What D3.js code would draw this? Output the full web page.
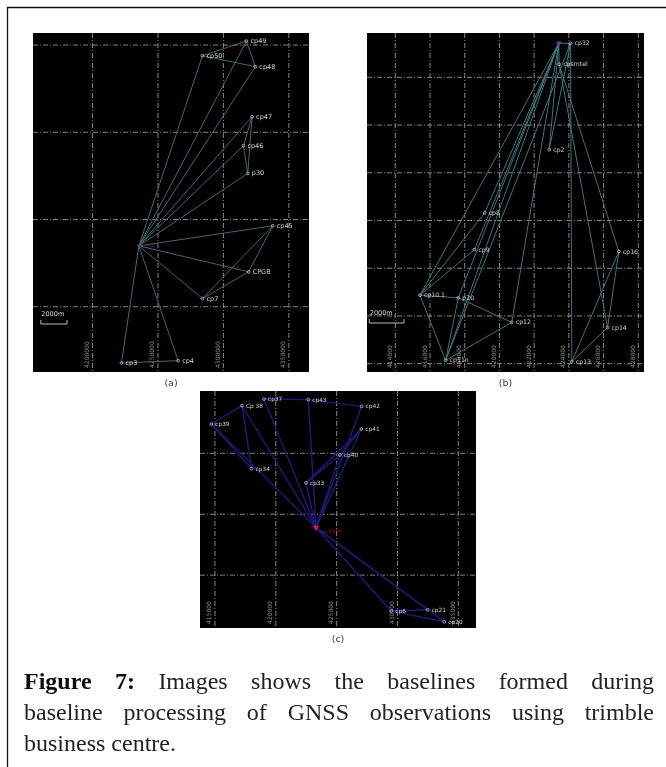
<!DOCTYPE html>
<html>
<head>
<meta charset="utf-8">
<script src="https://cdn.jsdelivr.net/npm/d3@7"></script>
<style>
  html, body { margin: 0; padding: 0; background: #fff; }
  svg { display: block; }
</style>
</head>
<body>
<div id="fig"></div>
<script>
// station positions in km (easting, northing)
const stationsA = [
  ['cp49', 431.76, 1000.23], ['cp50', 428.40, 999.39], ['cp48', 432.44, 998.76],
  ['cp47', 432.19, 995.89], ['cp46', 431.53, 994.23], ['p30', 431.86, 992.64],
  ['cp45', 433.77, 989.64], ['CPGB', 431.93, 987.00], ['cp7', 428.40, 985.47],
  ['cp4', 426.54, 981.91], ['cp3', 422.21, 981.78]
];
const baseA = [423.54, 988.49];
const noSpokeA = [];
const linksA = [
  ['cp50','cp49'], ['cp50','cp48'], ['cp49','cp48'], ['cp47','cp46'], ['cp47','p30'], ['cp46','p30'],
  ['cp45','CPGB'], ['cp45','cp7'], ['CPGB','cp7'], ['cp3','cp4']
];
const stationsB = [
  ['cp32', 424.10, 1001.43], ['cpsmtel', 423.44, 1000.55], ['cp2', 422.87, 996.97],
  ['cp8', 419.15, 994.32], ['cp9', 418.56, 992.78], ['cp16', 426.88, 992.70],
  ['cp10.1', 415.42, 990.87], ['p20', 417.63, 990.76], ['cp12', 420.71, 989.73],
  ['cp14', 426.23, 989.51], ['cp11n', 416.90, 988.14], ['cp13', 424.17, 988.08]
];
const baseB = [423.42, 1001.43];
const noSpokeB = ['cp16', 'cp14', 'cp13'];
const linksB = [
  ['cp32','cp2'], ['cp8','cp10.1'], ['cp9','cp10.1'], ['cp10.1','p20'], ['cp10.1','cp11n'],
  ['p20','cp11n'], ['p20','cp12'], ['cp11n','cp12'], ['cp32','cp11n'],
  ['cpsmtel','cp16'], ['cpsmtel','cp14'], ['cp32','cp13'], ['cp16','cp13'], ['cp16','cp14'], ['cp14','cp13']
];
const stationsC = [
  ['cp37', 419.03, 1004.45], ['cp43', 422.67, 1004.40], ['Cp 38', 417.22, 1003.91],
  ['cp42', 427.05, 1003.85], ['cp39', 414.70, 1002.40], ['cp41', 427.03, 1001.99],
  ['cp40', 425.27, 999.86], ['cp34', 418.01, 998.74], ['cp33', 422.48, 997.57],
  ['cp6', 429.49, 987.05], ['cp21', 432.48, 987.16], ['cp20', 433.85, 986.17]
];
const baseC = [423.30, 993.91];
const noSpokeC = ['cp34'];
const linksC = [
  ['cp37','cp43'], ['cp43','cp42'], ['Cp 38','cp39'], ['Cp 38','cp34'], ['cp39','cp34'],
  ['cp33','cp40'], ['cp33','cp41'], ['cp40','cp41'], ['cp6','cp21'], ['cp6','cp20'], ['cp21','cp20']
];
const eastTicksA = [420, 425, 430, 435];
const northTicksA = [1000, 995, 990, 985];
const eastLabelsA = ['4200000', '4250000', '4300000', '4350000'];
const eastTicksB = [414, 416, 418, 420, 422, 424, 426, 428];
const northTicksB = [1000, 998, 996, 994, 992, 990, 988];
const eastLabelsB = ['414000', '416000', '418000', '420000', '422000', '424000', '426000', '428000'];
const eastTicksC = [415, 420, 425, 430, 435];
const northTicksC = [1000, 995, 990];
const eastLabelsC = ['415000', '420000', '425000', '430000', '435000'];
const captionHead = 'Figure 7: ';
const captionLines = [
  'Images shows the baselines formed during',
  'baseline processing of GNSS observations using trimble',
  'business centre.'
];

const W = 666, H = 767;
const svg = d3.select('#fig').append('svg').attr('width', W).attr('height', H);

svg.append('filter').attr('id', 'soft')
  .append('feGaussianBlur').attr('stdDeviation', 0.55);

// outer frame, open on the right
const framePath = d3.path();
framePath.moveTo(7.5, H);
framePath.lineTo(7.5, 7.5);
framePath.lineTo(W, 7.5);
svg.append('path').attr('d', framePath.toString())
  .attr('fill', 'none').attr('stroke', '#111').attr('stroke-width', 1.3);

function drawPanel(o) {
  const x = d3.scaleLinear().domain(o.xDomain).range([o.left, o.right]);
  const y = d3.scaleLinear().domain(o.yDomain).range([o.top, o.bottom]);
  const g = svg.append('g').attr('filter', 'url(#soft)');

  g.append('rect')
    .attr('x', o.left).attr('y', o.top)
    .attr('width', o.right - o.left).attr('height', o.bottom - o.top)
    .attr('fill', '#000');

  // grid
  g.selectAll('.gx').data(o.eastTicks).enter().append('line')
    .attr('x1', d => x(d)).attr('x2', d => x(d))
    .attr('y1', o.top).attr('y2', o.bottom)
    .attr('stroke', '#a6a6a6').attr('stroke-width', 0.8).attr('stroke-dasharray', '5 2 1 2');
  g.selectAll('.gy').data(o.northTicks).enter().append('line')
    .attr('x1', o.left).attr('x2', o.right)
    .attr('y1', d => y(d)).attr('y2', d => y(d))
    .attr('stroke', '#a6a6a6').attr('stroke-width', 0.8).attr('stroke-dasharray', '5 2 1 2');

  // tick labels turned along the grid lines
  g.selectAll('.tl').data(o.eastTicks).enter().append('text')
    .attr('transform', d => `translate(${x(d) - 3.5},${o.bottom - 4}) rotate(-90)`)
    .attr('font-family', 'DejaVu Sans').attr('font-size', 6)
    .attr('fill', '#8d8d8d')
    .text((d, i) => o.eastLabels[i]);

  const pos = new Map(o.stations.map(s => [s[0], s]));

  // baselines from the base station
  g.selectAll('.spoke').data(o.stations.filter(s => !o.noSpoke.includes(s[0]))).enter().append('line')
    .attr('x1', x(o.base[0])).attr('y1', y(o.base[1]))
    .attr('x2', d => x(d[1])).attr('y2', d => y(d[2]))
    .attr('stroke', o.lineColor).attr('stroke-width', o.lineWidth);

  // baselines between stations
  g.selectAll('.link').data(o.links).enter().append('line')
    .attr('x1', d => x(pos.get(d[0])[1])).attr('y1', d => y(pos.get(d[0])[2]))
    .attr('x2', d => x(pos.get(d[1])[1])).attr('y2', d => y(pos.get(d[1])[2]))
    .attr('stroke', o.lineColor).attr('stroke-width', o.lineWidth);

  // stations
  g.selectAll('.st').data(o.stations).enter().append('circle')
    .attr('cx', d => x(d[1])).attr('cy', d => y(d[2])).attr('r', 1.4)
    .attr('fill', 'none').attr('stroke', '#d8d8d8').attr('stroke-width', 0.7);
  g.selectAll('.lb').data(o.stations).enter().append('text')
    .attr('x', d => x(d[1]) + 4).attr('y', d => y(d[2]) + 2)
    .attr('font-family', 'DejaVu Sans').attr('font-size', o.labelSize)
    .attr('fill', '#d4d4d4')
    .text(d => d[0]);

  // base station marker
  const bx = x(o.base[0]), by = y(o.base[1]);
  g.append('path')
    .attr('d', d3.symbol(d3.symbolTriangle, o.baseSize)())
    .attr('transform', `translate(${bx},${by}) rotate(180)`)
    .attr('fill', o.baseColor);
  if (o.baseLabel) {
    g.append('text').attr('x', bx + o.baseLabelDx).attr('y', by + o.baseLabelDy)
      .attr('font-family', 'DejaVu Sans').attr('font-size', 5)
      .attr('fill', o.baseColor).attr('opacity', 0.7)
      .text(o.baseLabel);
  }

  // scale bar, 2 km
  if (o.barKm) {
    const b = [x(o.barStart), x(o.barStart + o.barKm)];
    g.append('path')
      .attr('d', `M${b[0]},${o.barY - 4}V${o.barY}H${b[1]}V${o.barY - 4}`)
      .attr('fill', 'none').attr('stroke', '#cfcfcf').attr('stroke-width', 0.9);
    g.append('text').attr('x', b[0] + 0.5).attr('y', o.barY - 8)
      .attr('font-family', 'DejaVu Sans').attr('font-size', 6.5)
      .attr('fill', '#d8d8d8').text('2000m');
  }

  svg.append('text').attr('x', (o.left + o.right) / 2).attr('y', o.bottom + 14)
    .attr('text-anchor', 'middle')
    .attr('font-family', 'DejaVu Sans').attr('font-size', 9.5)
    .attr('fill', '#2d4260')
    .attr('filter', 'url(#soft)')
    .text(o.tag);
}

drawPanel({
  left: 33, right: 309, top: 33, bottom: 372,
  xDomain: [415.45, 436.54], yDomain: [1000.69, 981.26],
  eastTicks: eastTicksA, eastLabels: eastLabelsA, northTicks: northTicksA,
  stations: stationsA, base: baseA, links: linksA, noSpoke: noSpokeA,
  lineColor: '#44686c', lineWidth: 1, labelSize: 6.5,
  baseColor: '#7a2d9a', baseSize: 9, baseLabel: 'cp30', baseLabelDx: 4, baseLabelDy: 2,
  barKm: 2, barStart: 416.05, barY: 324, tag: '(a)'
});
drawPanel({
  left: 367, right: 644, top: 33, bottom: 372,
  xDomain: [412.37, 428.33], yDomain: [1001.86, 987.65],
  eastTicks: eastTicksB, eastLabels: eastLabelsB, northTicks: northTicksB,
  stations: stationsB, base: baseB, links: linksB, noSpoke: noSpokeB,
  lineColor: '#3f7478', lineWidth: 1, labelSize: 6.2,
  baseColor: '#7a2d9a', baseSize: 14, baseLabel: '', baseLabelDx: 0, baseLabelDy: 0,
  barKm: 2, barStart: 412.5, barY: 323, tag: '(b)'
});
drawPanel({
  left: 200, right: 476, top: 391, bottom: 628,
  xDomain: [413.77, 436.45], yDomain: [1005.11, 985.66],
  eastTicks: eastTicksC, eastLabels: eastLabelsC, northTicks: northTicksC,
  stations: stationsC, base: baseC, links: linksC, noSpoke: noSpokeC,
  lineColor: '#1c1c78', lineWidth: 1.4, labelSize: 5.8,
  baseColor: '#d01c3c', baseSize: 18, baseLabel: 'cp 2976', baseLabelDx: 5, baseLabelDy: 6,
  barKm: 0, tag: '(c)'
});

// caption, first two lines justified to the text block
const capLeft = 24, capRight = 654;
const lineY = [689, 720, 751];
captionLines.forEach((row, i) => {
  const t = svg.append('text').attr('x', capLeft).attr('y', lineY[i])
    .attr('font-family', '"Liberation Serif", serif').attr('font-size', 24).attr('fill', '#222')
    .attr('filter', 'url(#soft)');
  if (i === 0) {
    t.append('tspan').attr('font-weight', 700).attr('fill', '#111').text(captionHead);
  }
  t.append('tspan').text(row);
  if (i < 2) {
    const extra = capRight - capLeft - t.node().getComputedTextLength();
    const gaps = (i === 0 ? captionHead + row : row).split(' ').length - 1;
    t.attr('word-spacing', extra / gaps);
  }
});
</script>
</body>
</html>
